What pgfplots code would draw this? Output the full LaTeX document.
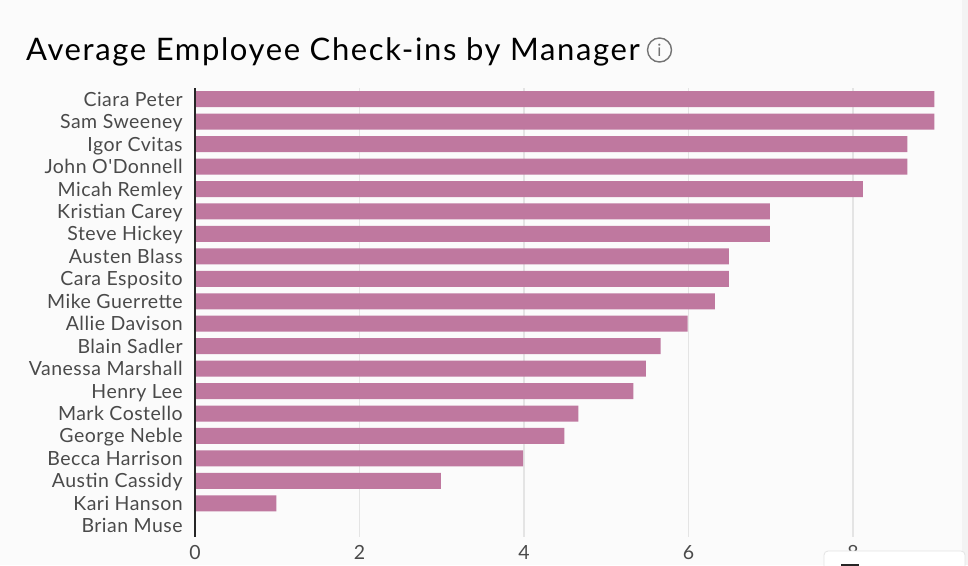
\documentclass[border=0pt]{standalone}
\usepackage{pgfplots}
\pgfplotsset{compat=1.18}
\usepackage{fontspec}
\setmainfont{Lato}
\newfontfamily\lab[LetterSpace=2.5]{Lato}
\newfontfamily\ttl[LetterSpace=5.2]{Lato}
\definecolor{bg}{HTML}{FBFBFB}
\definecolor{strip}{HTML}{F3F3F3}
\definecolor{barc}{HTML}{BF789F}
\definecolor{txt}{HTML}{4A4A4A}
\definecolor{gridc}{HTML}{E4E4E4}
\begin{document}
\begin{tikzpicture}[x=1pt,y=-1pt]
\clip (0,0) rectangle (968,565);
\fill[bg] (0,0) rectangle (968,565);
\fill[strip] (962,0) rectangle (968,565);
\node[anchor=base west,inner sep=0pt,font=\ttl\fontsize{31}{34}\selectfont,text=black] at (26,60) {Average Employee Check-ins by Manager};
\begin{axis}[
  at={(195pt,-537pt)},anchor=south west,
  scale only axis,width=781.4pt,height=449pt,
  xbar,bar width=16pt,
  xmin=0,xmax=9.5,
  ymin=-0.5,ymax=19.5,y dir=reverse,
  axis line style={draw=none},
  axis x line*=bottom,
  axis y line*=left,
  xtick={0,2,4,6,8},
  xtick style={draw=none},ytick style={draw=none},
  xmajorgrids,grid style={gridc,line width=1.5pt},
  ytick={0,...,19},
  yticklabels={Ciara Peter,Sam Sweeney,Igor Cvitas,John O'Donnell,Micah Remley,Kristian Carey,Steve Hickey,Austen Blass,Cara Esposito,Mike Guerrette,Allie Davison,Blain Sadler,Vanessa Marshall,Henry Lee,Mark Costello,George Neble,Becca Harrison,Austin Cassidy,Kari Hanson,Brian Muse},
  ticklabel style={font=\lab\fontsize{19.5}{22}\selectfont,text=txt},
  /pgf/number format/assume math mode=true,
  yticklabel style={xshift=-4.5pt,yshift=-2.5pt,text height=13pt,text depth=4pt,anchor=east},
  xticklabel style={yshift=-5pt},
  clip=false,
]
\addplot[fill=barc,draw=none] coordinates {
(8.99,0)(8.99,1)(8.66,2)(8.66,3)(8.12,4)(6.99,5)(6.99,6)(6.49,7)(6.49,8)(6.32,9)(5.99,10)(5.66,11)(5.48,12)(5.33,13)(4.66,14)(4.49,15)(3.99,16)(2.99,17)(0.99,18)(0,19)};
\end{axis}
\draw[black!85,line width=1.5pt] (195,88) -- (195,537);
\draw[gray!90!black,line width=1.4pt] (659.5,50) circle (12);
\node[text=gray!90!black,font=\fontsize{17}{17}\selectfont,inner sep=0pt] at (659.5,50) {i};
\fill[white,draw=gridc,rounded corners=4pt,line width=0.8pt] (824,551) rectangle (965,590);
\fill[black!85] (841,564) rectangle (859,570);
\end{tikzpicture}
\end{document}
